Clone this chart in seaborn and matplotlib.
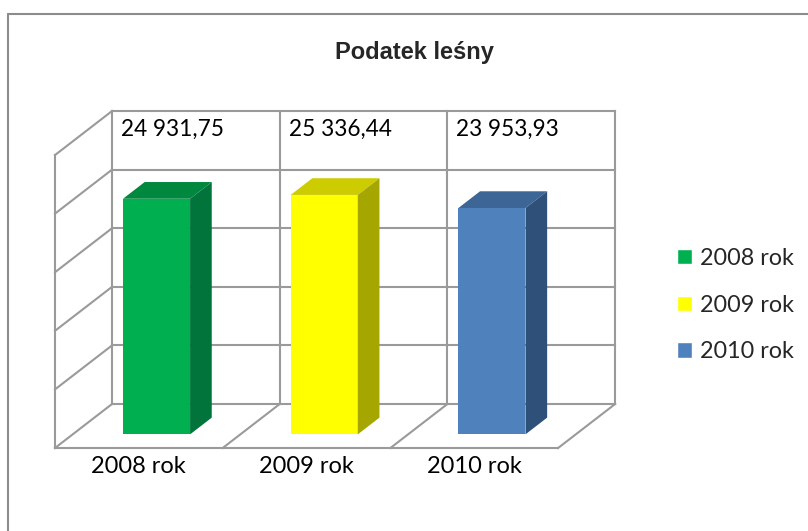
import numpy as np
import pandas as pd
import seaborn as sns
import matplotlib.pyplot as plt
from matplotlib.patches import Polygon, Patch
from matplotlib.lines import Line2D

years = ["2008 rok", "2009 rok", "2010 rok"]
values = [24931.75, 25336.44, 23953.93]
value_labels = ["24 931,75", "25 336,44", "23 953,93"]
front_colors = ["#00B050", "#FFFF00", "#4F81BD"]
top_colors = ["#00883E", "#CCCC00", "#3D6696"]
side_colors = ["#00743A", "#A6A600", "#2F5179"]
title = "Podatek leśny"

y_max = 31000
y_step = 6200

df = pd.DataFrame({"rok": years, "kwota": values})

sns.set_theme(style="white")
plt.rcParams["font.family"] = ["Lato", "DejaVu Sans"]

fig = plt.figure(figsize=(8.08, 5.31), dpi=100)
ax = fig.add_axes([0, 0, 1, 1])

#### bars (front faces) ####
sns.barplot(
    data=df, x="rok", y="kwota", hue="rok",
    palette=front_colors, saturation=1, width=0.4,
    linewidth=0, legend=False, ax=ax, zorder=3
)

ax.set_xlim(-0.828, 3.990)
ax.set_ylim(-8783, 47407)
ax.axis("off")

# oblique depth of the 3D box
DX, DY = 0.34, 4656
z0, z1 = 0.31, 0.69
x_left, x_right = -0.5, 2.5
grid_kw = dict(color="#9a9a9a", lw=1.5, zorder=1, solid_capstyle="projecting")

# back wall + side wall gridlines
for v in np.arange(0, y_max + 1, y_step):
    ax.plot([x_left + DX, x_right + DX], [v + DY, v + DY], **grid_kw)
    ax.plot([x_left, x_left + DX], [v, v + DY], **grid_kw)

# vertical edges
ax.plot([x_left, x_left], [0, y_max], **grid_kw)
for xv in [x_left, 0.5, 1.5, x_right]:
    ax.plot([xv + DX, xv + DX], [DY, y_max + DY], **grid_kw)

# floor
ax.plot([x_left, x_right], [0, 0], **grid_kw)
for xv in [0.5, 1.5, x_right]:
    ax.plot([xv, xv + DX], [0, DY], **grid_kw)

# move bars into the middle of the box and add top / side faces
bars = sorted(ax.patches, key=lambda p: p.get_x())
d = z1 - z0
for i, p in enumerate(bars):
    x0 = p.get_x() + z0 * DX
    y0 = z0 * DY
    w, h = p.get_width(), p.get_height()
    p.set_x(x0)
    p.set_y(y0)
    top = [(x0, y0 + h), (x0 + w, y0 + h),
           (x0 + w + d * DX, y0 + h + d * DY), (x0 + d * DX, y0 + h + d * DY)]
    side = [(x0 + w, y0), (x0 + w + d * DX, y0 + d * DY),
            (x0 + w + d * DX, y0 + h + d * DY), (x0 + w, y0 + h)]
    ax.add_patch(Polygon(top, closed=True, facecolor=top_colors[i], lw=0, zorder=3))
    ax.add_patch(Polygon(side, closed=True, facecolor=side_colors[i], lw=0, zorder=3))

# data labels and category labels
for i, lbl in enumerate(value_labels):
    ax.text(i + 0.2, 33757, lbl, ha="center", va="center", fontsize=16.3, color="black")
for i, yr in enumerate(years):
    ax.text(i, -1905, yr, ha="center", va="center", fontsize=17, color="black")

fig.text(414 / 808, 1 - 53 / 531, title, ha="center", va="center",
         fontsize=17, fontweight="bold", family=["Liberation Sans", "DejaVu Sans"])

handles = [Patch(facecolor=c, label=y) for c, y in zip(front_colors, years)]
ax.legend(
    handles=handles, loc="center left",
    bbox_to_anchor=(677 / 808, 1 - 305 / 531), bbox_transform=fig.transFigure,
    frameon=False, fontsize=16.8, handlelength=0.65, handleheight=0.65,
    handletextpad=0.35, labelspacing=1.1, borderpad=0, borderaxespad=0
)

# outer chart border (top and left visible)
fig.add_artist(Line2D([8 / 808, 8 / 808], [0, 1 - 14 / 531],
                      transform=fig.transFigure, color="#8c8c8c", lw=1.5))
fig.add_artist(Line2D([8 / 808, 1], [1 - 14 / 531, 1 - 14 / 531],
                      transform=fig.transFigure, color="#8c8c8c", lw=1.5))

fig.savefig("out.png", dpi=100)
